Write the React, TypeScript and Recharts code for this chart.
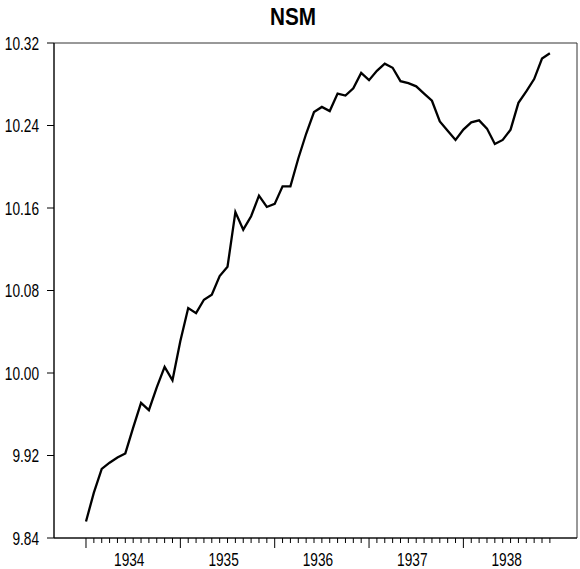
import { LineChart, Line, XAxis, YAxis, ReferenceArea } from "recharts";

// monthly values, Jan 1934 .. Dec 1938
const nsm = [
  9.856, 9.884, 9.907, 9.913, 9.918, 9.922, 9.947, 9.971, 9.964, 9.986, 10.006, 9.993,
  10.031, 10.063, 10.058, 10.071, 10.076, 10.094, 10.103, 10.156, 10.139, 10.152, 10.172, 10.161,
  10.164, 10.181, 10.181, 10.208, 10.232, 10.253, 10.258, 10.254, 10.271, 10.269, 10.276, 10.291,
  10.284, 10.293, 10.3, 10.296, 10.283, 10.281, 10.278, 10.271, 10.264, 10.244, 10.235, 10.226,
  10.236, 10.243, 10.245, 10.237, 10.222, 10.226, 10.236, 10.262, 10.273, 10.285, 10.305, 10.31,
];
const years = ["1934", "1935", "1936", "1937", "1938"];
const yTicks = [9.84, 9.92, 10.0, 10.08, 10.16, 10.24, 10.32];

const data = nsm.map((v, i) => ({ m: i, v }));
const monthTicks = nsm.map((_, i) => i);
const yearLabelTicks = years.map((_, k) => k * 12 + 5.5);

const X_DOMAIN: [number, number] = [-4.07, 62.45];
const FONT = "'Liberation Sans', Arial, sans-serif";

const XTick = (props: any) => {
  const { x, y, payload } = props;
  const val = payload.value;
  if (Number.isInteger(val)) {
    return <line x1={x} x2={x} y1={y} y2={y + (val % 12 === 0 ? 10 : 5)} stroke="#000" strokeWidth={1} />;
  }
  const label = years[Math.floor(val / 12)];
  return (
    <text transform={`translate(${x},${y + 28}) scale(0.76,1)`} textAnchor="middle" fontSize={18} fontFamily={FONT} fill="#000">
      {label}
    </text>
  );
};

const YTick = (props: any) => {
  const { x, y, payload } = props;
  return (
    <text transform={`translate(${x},${y + 6.5}) scale(0.76,1)`} textAnchor="end" fontSize={18} fontFamily={FONT} fill="#000">
      {Number(payload.value).toFixed(2)}
    </text>
  );
};

export default function App() {
  return (
    <div style={{ position: "absolute", left: 0, top: 0, width: 580, height: 569, background: "#fff" }}>
      <svg width={580} height={40} style={{ position: "absolute", left: 0, top: 0 }}>
        <text transform="translate(293,25) scale(0.9,1)" textAnchor="middle" fontSize={23} fontWeight="bold" fontFamily={FONT} fill="#000">
          NSM
        </text>
      </svg>
      <LineChart width={580} height={569} data={data} margin={{ top: 43, right: 3, bottom: 0, left: 0 }}>
        <ReferenceArea x1={X_DOMAIN[0]} x2={X_DOMAIN[1]} y1={9.84} y2={10.32} fill="none" stroke="#333" strokeWidth={1} />
        <XAxis
          dataKey="m"
          type="number"
          domain={X_DOMAIN}
          ticks={[...monthTicks, ...yearLabelTicks]}
          interval={0}
          tickLine={false}
          tickSize={0}
          tickMargin={0}
          tick={<XTick />}
          axisLine={{ stroke: "#000" }}
          height={31}
        />
        <YAxis
          type="number"
          domain={[9.84, 10.32]}
          ticks={yTicks}
          interval={0}
          tickSize={7}
          tickMargin={8}
          tickLine={{ stroke: "#000" }}
          axisLine={{ stroke: "#000" }}
          tick={<YTick />}
          width={54}
        />
        <Line type="linear" dataKey="v" stroke="#000" strokeWidth={2.3} dot={false} isAnimationActive={false} />
      </LineChart>
    </div>
  );
}
